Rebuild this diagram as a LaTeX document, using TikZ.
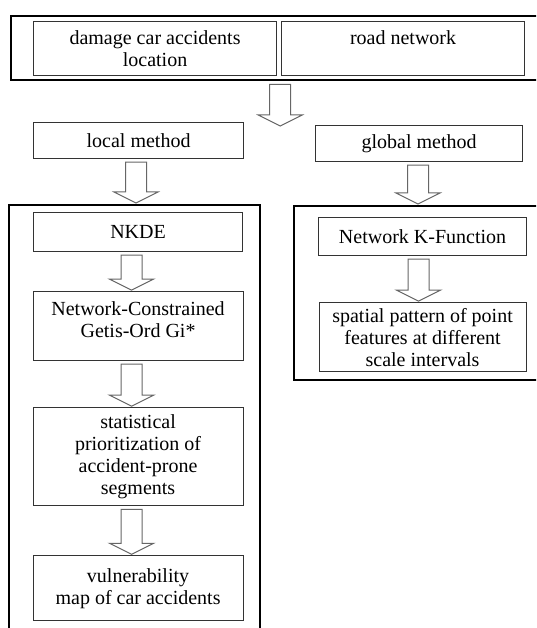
\documentclass[tikz,border=0pt]{standalone}
\usepackage{fontspec}
\setmainfont{Liberation Serif}
\usetikzlibrary{positioning,calc}

% hollow block arrow: [x offset]{from anchor}{to anchor}
\newcommand{\hollowarrow}[3][0]{%
  \draw[blockarr] let \p1=($#2+(#1,3)$), \p2=($#3+(#1,-1)$) in
    (\x1-10.5pt,\y1) -- (\x1+10.5pt,\y1) -- (\x1+10.5pt,\y2+11pt)
    -- (\x1+22pt,\y2+11pt) -- (\x1,\y2) -- (\x1-22pt,\y2+11pt)
    -- (\x1-10.5pt,\y2+11pt) -- cycle;}

\begin{document}
\begin{tikzpicture}[
  x=1pt, y=-1pt,
  box/.style={rectangle, draw=black!80, line width=1.1pt, align=center,
    text=black, inner sep=2pt, font=\rmfamily\fontsize{20}{22}\selectfont},
  frame/.style={rectangle, draw=black, line width=2.4pt, inner sep=0pt},
  blockarr/.style={draw=black!60, line width=1pt, fill=white},
]
  \useasboundingbox (0,0) rectangle (536,628);
  \clip (0,0) rectangle (536,628);

  % input layer
  \node[frame, anchor=north west, minimum width=550, minimum height=64] (inputs) at (10,15) {};
  \node[box, anchor=north west, minimum width=243, minimum height=54] (crash) at (33,21)
    {damage car accidents\\location};
  \node[box, anchor=north west, minimum width=243, minimum height=54] (road) at (281,21)
    {road network\\\mbox{}};

  % the two methods
  \node[box, anchor=north west, minimum width=210, minimum height=36] (local) at (33,122) {local method};
  \node[box, anchor=north west, minimum width=207, minimum height=36] (global) at (315,125) {global method};
  \coordinate (split) at (279,127);

  % local branch
  \node[frame, anchor=north west, minimum width=251, minimum height=460] (localframe) at (8,204) {};
  \node[box, anchor=north west, minimum width=209, minimum height=39] (nkde) at (33,212) {NKDE};
  \node[box, below=39pt of nkde, minimum width=210, minimum height=69] (gistar)
    {Network-Constrained\\Getis-Ord Gi*\\[-8pt]\mbox{}};
  \node[box, below=46pt of gistar, minimum width=210, minimum height=98] (prior)
    {statistical\\prioritization of\\accident-prone\\segments};
  \node[box, below=49pt of prior, minimum width=210, minimum height=65] (vuln)
    {vulnerability\\map of car accidents};

  % global branch
  \node[frame, anchor=north west, minimum width=267, minimum height=174] (globalframe) at (293,205) {};
  \node[box, anchor=north west, minimum width=208, minimum height=38] (kfunc) at (318,217) {Network K-Function};
  \node[box, below=46pt of kfunc, minimum width=207, minimum height=69] (pattern)
    {spatial pattern of point\\features at different\\scale intervals};

  \hollowarrow[-6]{(inputs.south)}{(split)}
  \hollowarrow[-2.5]{(local.south)}{(localframe.north)}
  \hollowarrow[-1]{(global.south)}{(globalframe.north)}
  \hollowarrow[-6.5]{(nkde.south)}{(gistar.north)}
  \hollowarrow[-6.5]{(gistar.south)}{(prior.north)}
  \hollowarrow[-6.5]{(prior.south)}{(vuln.north)}
  \hollowarrow[-4]{(kfunc.south)}{(pattern.north)}
\end{tikzpicture}
\end{document}
